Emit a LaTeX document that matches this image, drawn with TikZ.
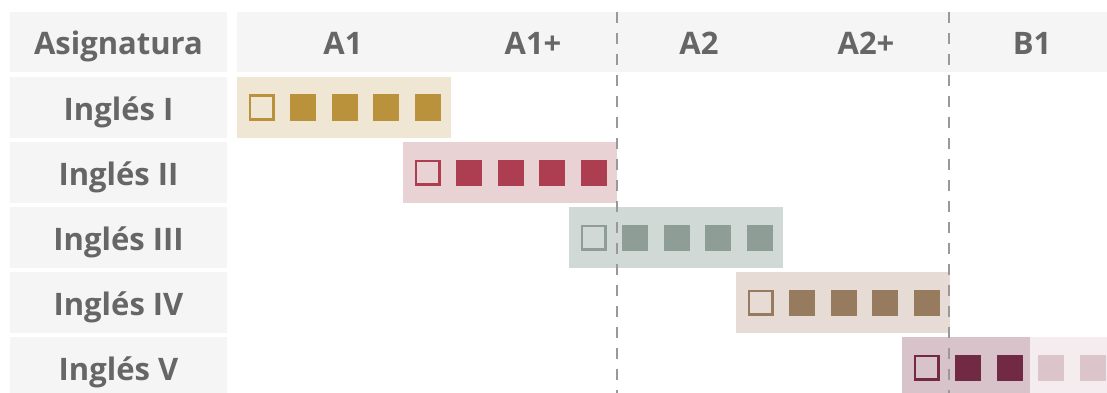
\documentclass[tikz,border=0pt]{standalone}
\usepackage{fontspec}
\setmainfont{Open Sans}
\definecolor{labbg}{HTML}{F5F5F5}
\definecolor{labtxt}{HTML}{666666}
\definecolor{dashc}{HTML}{999999}
\definecolor{barA}{HTML}{EFE6D3}\definecolor{sqA}{HTML}{B9923B}
\definecolor{barB}{HTML}{E9D2D4}\definecolor{sqB}{HTML}{AD3D51}
\definecolor{barC}{HTML}{D1D9D6}\definecolor{sqC}{HTML}{8E9E97}
\definecolor{barD}{HTML}{E6DCD5}\definecolor{sqD}{HTML}{977B5E}
\definecolor{barE}{HTML}{D9C3CA}\definecolor{sqE}{HTML}{722A44}
\definecolor{barF}{HTML}{F5ECEF}\definecolor{sqF}{HTML}{DBC4CA}
\begin{document}
\begin{tikzpicture}[x=1pt,y=-1pt,
  labbox/.style={fill=labbg, minimum height=61pt, minimum width=217pt, inner sep=0pt, anchor=north west},
  txt/.style={text=labtxt, font=\bfseries\fontsize{31}{34}\selectfont, inner sep=0pt, anchor=base},
  bar/.style={minimum height=61pt, minimum width=214pt, inner sep=0pt, anchor=north west},
  sqfull/.style={minimum size=26pt, inner sep=0pt},
  sqempty/.style={minimum size=23.5pt, inner sep=0pt, line width=2.5pt},
  gridline/.style={draw=dashc, line width=2pt, dash pattern=on 11pt off 10pt}]
\useasboundingbox (0,0) rectangle (1107,393);
\clip (0,0) rectangle (1107,393);
% header
\node[labbox, minimum height=60pt] (hlab) at (10,12) {};
\node[txt] (hlabt) at (118.5,54.5) {Asignatura};
\node[fill=labbg, minimum height=60pt, minimum width=870pt, inner sep=0pt, anchor=north west] (hbar) at (237,12) {};
\node[txt] (hA1) at (343,54.5) {A1};
\node[txt] (hA1p) at (533,54.5) {A1+};
\node[txt] (hA2) at (699,54.5) {A2};
\node[txt] (hA2p) at (866,54.5) {A2+};
\node[txt] (hB1) at (1032,54.5) {B1};
% row labels
\foreach \r/\name in {1/Inglés I, 2/Inglés II, 3/Inglés III, 4/Inglés IV, 5/Inglés V}{
  \node[labbox] (l\r) at (10,12+65*\r) {};
  \node[txt] (lt\r) at (118.5,55.5+65*\r) {\name};
}
% bars
\foreach \r/\bx/\bc/\sc in {1/237/barA/sqA, 2/403/barB/sqB, 3/569/barC/sqC, 4/736/barD/sqD}{
  \pgfmathsetmacro{\ty}{12+65*\r}
  \node[bar, fill=\bc] (b\r) at (\bx,\ty) {};
  \node[sqempty, draw=\sc] (s\r-0) at (\bx+24.5,\ty+30.5) {};
  \foreach \k in {1,2,3,4}{
    \node[sqfull, fill=\sc] (s\r-\k) at (\bx+24.5+41.5*\k,\ty+30.5) {};
  }
}
% row 5
\node[bar, fill=barE, minimum width=128pt] (b5) at (902,337) {};
\node[bar, fill=barF, minimum width=80pt] (b5x) at (1030,337) {};
\node[sqempty, draw=sqE] (s5-0) at (926.5,367.5) {};
\node[sqfull, fill=sqE] (s5-1) at (968,367.5) {};
\node[sqfull, fill=sqE] (s5-2) at (1009.5,367.5) {};
\node[sqfull, fill=sqF] (s5-3) at (1051,367.5) {};
\node[sqfull, fill=sqF] (s5-4) at (1092.5,367.5) {};
% dashed level boundaries
\coordinate (d1t) at (617,12);
\coordinate (d1b) at (617,393);
\coordinate (d2t) at (949,12);
\coordinate (d2b) at (949,393);
\draw[gridline] (d1t) -- (d1b);
\draw[gridline] (d2t) -- (d2b);
\end{tikzpicture}
\end{document}
